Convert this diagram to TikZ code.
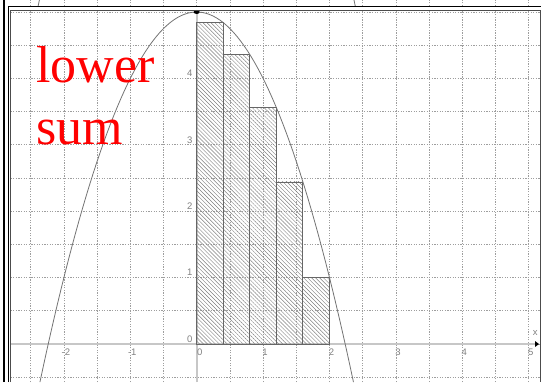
\documentclass[tikz,border=0pt]{standalone}
\usepackage{fontspec}
\setsansfont{Liberation Sans}
\newfontfamily\sumfont{Liberation Serif}
\usetikzlibrary{arrows.meta,patterns.meta}

\begin{document}
\begin{tikzpicture}[
			x=66.4pt, y=66.4pt,
			every node/.style={font=\sffamily\fontsize{9.5}{9.5}\selectfont, text=black!50, inner sep=1pt},
			gridline/.style={black!38, line width=0.65pt, dash pattern=on 1.3pt off 1.3pt},
			axisline/.style={black!22, line width=2.4pt},
			curve/.style={black!55, line width=0.8pt},
			sumbar/.style={draw=black!60, line width=0.9pt, pattern={Lines[angle=-45,distance=2.8pt,line width=0.45pt]}, pattern color=black!50},
			sumlabel/.style={font=\sumfont\fontsize{52}{52}\selectfont, text=red, inner sep=0pt, anchor=base west}
			]
			\useasboundingbox (-2.9623,-0.5723) rectangle (5.1852,5.1807);
			
			\begin{scope}
				\clip (-2.842,5.083) rectangle (5.1852,5.1807);
				\draw[gridline] (-2.84,5.05) grid[step=0.5] (5.18,5.2);
				\draw[curve] plot[domain=-2.5:-2.25, samples=10] (\x,{10.792-\x*\x});
				\draw[curve] plot[domain=2.25:2.5, samples=10] (\x,{10.792-\x*\x});
			\end{scope}
			
			\draw[gridline] (-2.804,-0.5723) grid[step=0.5] (5.170,5.030);
			
			\draw[axisline] (-2.804,0) -- (5.10,0);
			\draw[black!22, line width=1.6pt] (0,-0.5723) -- (0,5.030);
			\fill[black] (5.155,0) -- (5.095,0.045) -- (5.095,-0.045) -- cycle;
			
			\draw[sumbar] (0,0) rectangle (0.4,4.84);
			\draw[sumbar] (0.4,0) rectangle (0.8,4.36);
			\draw[sumbar] (0.8,0) rectangle (1.2,3.56);
			\draw[sumbar] (1.2,0) rectangle (1.6,2.44);
			\draw[sumbar] (1.6,0) rectangle (2.0,1);
			
			\draw[curve] plot[domain=-2.361:2.361, samples=90] (\x,{5-\x*\x});
			\fill[black] (0,5) ellipse (3pt and 2pt);
			
			\draw[line width=2.2pt] (-2.902,-0.5723) -- (-2.902,5.1807);
			\draw[line width=0.9pt] (-2.842,-0.5723) |- (5.1852,5.083);
			\draw[black!70, line width=0.8pt] (-2.804,-0.5723) |- (5.1852,5.030);
			\draw[black!70, line width=0.8pt] (5.170,5.030) -- (5.170,-0.5723);
			
			\node[anchor=north, xshift=2pt, yshift=-4pt] (xlabm2) at (-2,0) {-2};
			\node[anchor=north, xshift=2pt, yshift=-4pt] (xlabm1) at (-1,0) {-1};
			\node[anchor=north, xshift=3pt, yshift=-4pt] (xlab0) at (0,0) {0};
			\node[anchor=north, xshift=2pt, yshift=-4pt] (xlab1) at (1,0) {1};
			\node[anchor=north, xshift=2pt, yshift=-4pt] (xlab2) at (2,0) {2};
			\node[anchor=north, xshift=2pt, yshift=-4pt] (xlab3) at (3,0) {3};
			\node[anchor=north, xshift=2pt, yshift=-4pt] (xlab4) at (4,0) {4};
			\node[anchor=north, xshift=2pt, yshift=-4pt] (xlab5) at (5,0) {5};
			\node (xname) at (5.098,0.17) {x};
			
			\node[anchor=south east, xshift=-3pt, yshift=0.5pt] (ylab0) at (0,0) {0};
			\node[anchor=south east, xshift=-3pt, yshift=0.5pt] (ylab1) at (0,1) {1};
			\node[anchor=south east, xshift=-3pt, yshift=0.5pt] (ylab2) at (0,2) {2};
			\node[anchor=south east, xshift=-3pt, yshift=0.5pt] (ylab3) at (0,3) {3};
			\node[anchor=south east, xshift=-3pt, yshift=0.5pt] (ylab4) at (0,4) {4};
			
			\node[sumlabel] (lower) at (-2.42,3.931) {lower};
			\node[sumlabel] (sum) at (-2.42,3.012) {sum};
		\end{tikzpicture}
\end{document}
